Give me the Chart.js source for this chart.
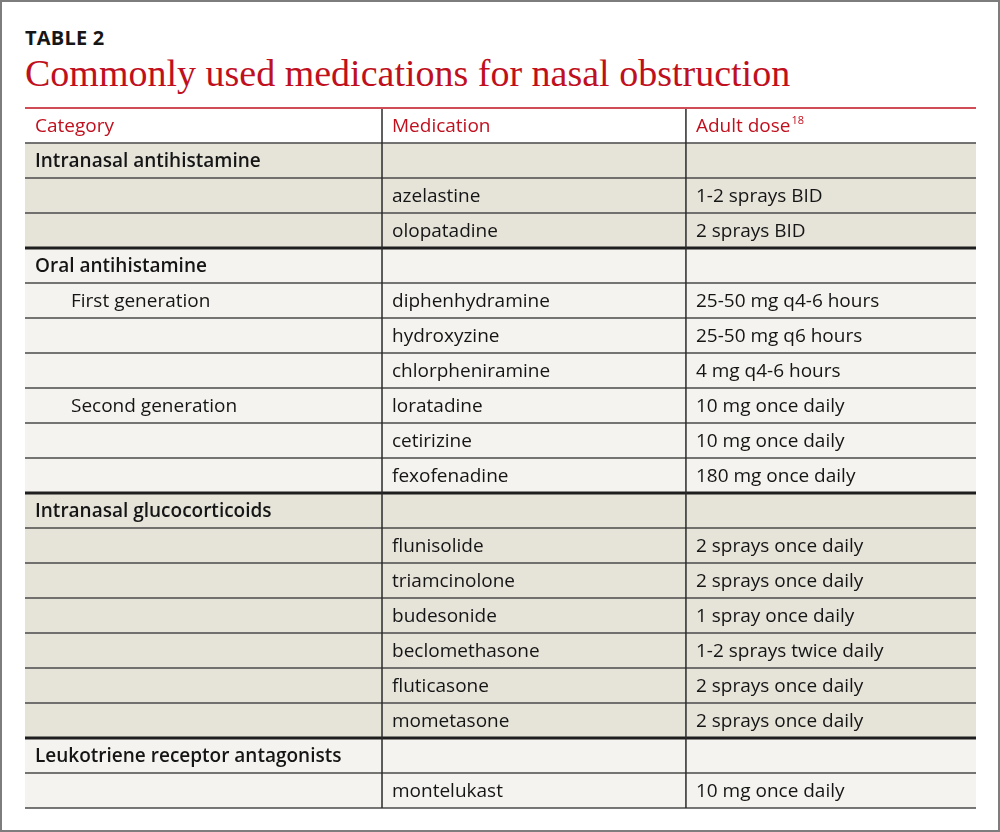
<!DOCTYPE html>
<html>
<head>
<meta charset="utf-8">
<script src="https://cdn.jsdelivr.net/npm/chart.js@4/dist/chart.umd.min.js"></script>
<style>
  html, body { margin: 0; padding: 0; background: #fff; }
  #wrap { position: relative; width: 1000px; height: 832px; box-sizing: border-box; border: 2px solid #7d7d7d; overflow: hidden; }
  #wrap canvas { position: absolute; left: -2px; top: -2px; }
  .label { position: absolute; left: 23px; top: 22px; font: bold 20px/28px "Open Sans", sans-serif; color: #161616; letter-spacing: 0.2px; }
  .title { position: absolute; left: 23px; top: 49px; font: 38px/44px "Liberation Serif", serif; color: #c0101e; white-space: nowrap; }
</style>
</head>
<body>
<div id="wrap">
  <div class="label">TABLE 2</div>
  <div class="title">Commonly used medications for nasal obstruction</div>
  <canvas id="table" width="1000" height="832"></canvas>
</div>
<script>
// table content, one entry per body row
const headers = ['Category', 'Medication', 'Adult dose'];
const headerNote = '18';
const categories = ['Intranasal antihistamine', '', '', 'Oral antihistamine', 'First generation', '', '',
  'Second generation', '', '', 'Intranasal glucocorticoids', '', '', '', '', '', '',
  'Leukotriene receptor antagonists', ''];
const medications = ['', 'azelastine', 'olopatadine', '', 'diphenhydramine', 'hydroxyzine', 'chlorpheniramine',
  'loratadine', 'cetirizine', 'fexofenadine', '', 'flunisolide', 'triamcinolone', 'budesonide',
  'beclomethasone', 'fluticasone', 'mometasone', '', 'montelukast'];
const doses = ['', '1-2 sprays BID', '2 sprays BID', '', '25-50 mg q4-6 hours', '25-50 mg q6 hours',
  '4 mg q4-6 hours', '10 mg once daily', '10 mg once daily', '180 mg once daily', '',
  '2 sprays once daily', '2 sprays once daily', '1 spray once daily', '1-2 sprays twice daily',
  '2 sprays once daily', '2 sprays once daily', '', '10 mg once daily'];
const groups = [0, 0, 0, 1, 1, 1, 1, 1, 1, 1, 2, 2, 2, 2, 2, 2, 2, 3, 3];

// layout / style
const colEdges = [0, 0.3754, 0.695, 1];
const RED = '#c0101e';
const INK = '#151515';
const SHADES = ['#e6e3d9', '#f4f3ef'];
const FONT = '"Open Sans", sans-serif';

const rows = [headers].concat(categories.map((c, i) => [c, medications[i], doses[i]]));
const rowLabels = rows.map((r, i) => 'r' + i);

function rowColor(i) {
  if (i === 0) return '#ffffff';
  return SHADES[groups[i - 1] % 2];
}

const datasets = [0, 1, 2].map(col => ({
  data: rows.map(() => [colEdges[col], colEdges[col + 1]]),
  backgroundColor: ctx => rowColor(ctx.dataIndex),
  borderWidth: 0,
  grouped: false,
  barPercentage: 1,
  categoryPercentage: 1
}));

const tablePlugin = {
  id: 'tableGrid',
  afterDatasetsDraw(chart) {
    const { ctx, scales: { x, y }, chartArea } = chart;
    const step = y.getPixelForValue(1) - y.getPixelForValue(0);
    const top = i => y.getPixelForValue(i) - step / 2;
    const left = chartArea.left, right = chartArea.right;
    ctx.save();

    // horizontal rules
    for (let i = 1; i <= rows.length; i++) {
      const yy = top(i);
      const groupBreak = i < rows.length && i > 1 && groups[i - 1] !== groups[i - 2];
      ctx.beginPath();
      ctx.strokeStyle = groupBreak ? '#1e1e1e' : '#4a4a4a';
      ctx.lineWidth = groupBreak ? 3 : 1.5;
      ctx.moveTo(left, yy);
      ctx.lineTo(right, yy);
      ctx.stroke();
    }
    // red top rule
    ctx.beginPath();
    ctx.strokeStyle = RED;
    ctx.lineWidth = 1.5;
    ctx.moveTo(left, top(0));
    ctx.lineTo(right, top(0));
    ctx.stroke();

    // column separators
    [1, 2].forEach(c => {
      const xx = x.getPixelForValue(colEdges[c]);
      ctx.beginPath();
      ctx.strokeStyle = '#2a2a2a';
      ctx.lineWidth = 1.5;
      ctx.moveTo(xx, top(0) + 1);
      ctx.lineTo(xx, top(rows.length));
      ctx.stroke();
    });

    // cell text
    ctx.textBaseline = 'middle';
    rows.forEach((r, i) => {
      const cy = y.getPixelForValue(i) + 1;
      r.forEach((txt, c) => {
        if (!txt) return;
        let xx = x.getPixelForValue(colEdges[c]) + 10;
        let weight = '400';
        ctx.fillStyle = i === 0 ? RED : INK;
        if (i > 0 && c === 0) {
          if (medications[i - 1] === '') weight = '600';
          else xx += 36;
        }
        ctx.font = weight + ' 19px ' + FONT;
        ctx.fillText(txt, xx, cy);
        if (i === 0 && c === 2) {
          const w = ctx.measureText(txt).width;
          ctx.font = '400 11px ' + FONT;
          ctx.fillText(headerNote, xx + w + 1, cy - 6);
        }
      });
    });
    ctx.restore();
  }
};

new Chart(document.getElementById('table'), {
  type: 'bar',
  data: { labels: rowLabels, datasets: datasets },
  options: {
    indexAxis: 'y',
    responsive: false,
    animation: false,
    layout: { padding: { left: 25, right: 24, top: 108, bottom: 24 } },
    scales: {
      x: { display: false, min: 0, max: 1 },
      y: { display: false }
    },
    plugins: { legend: { display: false }, tooltip: { enabled: false } }
  },
  plugins: [tablePlugin]
});
</script>
</body>
</html>
